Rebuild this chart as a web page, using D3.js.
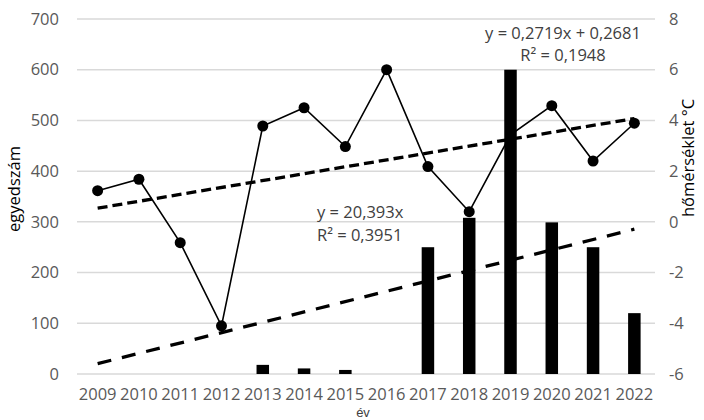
<!DOCTYPE html>
<html>
<head>
<meta charset="utf-8">
<script src="https://cdn.jsdelivr.net/npm/d3@7"></script>
<style>
  html, body { margin: 0; padding: 0; background: #fff; }
  svg text { font-family: "Open Sans", "Liberation Sans", sans-serif; }
</style>
</head>
<body>
<svg id="chart" width="704" height="420"></svg>
<script>
// Yearly counts (bars, left axis) and mean temperature (line, right axis)
const years = ["2009","2010","2011","2012","2013","2014","2015","2016","2017","2018","2019","2020","2021","2022"];
const counts = [0, 0, 0, 0, 18, 11, 8, 0, 250, 308, 600, 299, 250, 120];
const temps = [1.23, 1.68, -0.82, -4.1, 3.78, 4.5, 2.97, 6.0, 2.18, 0.4, 3.43, 4.58, 2.4, 3.89];

// Linear trends (x = 1..n)
const countTrend = [20.393, 0];        // slope, intercept
const tempTrend = [0.2719, 0.2681];    // slope, intercept
const countTrendLabel = ["y = 20,393x", "R² = 0,3951"];
const tempTrendLabel = ["y = 0,2719x + 0,2681", "R² = 0,1948"];

// Axis ticks
const leftTicks = [0, 100, 200, 300, 400, 500, 600, 700];
const rightTicks = [-6, -4, -2, 0, 2, 4, 6, 8];

const svg = d3.select("#chart");
const plot = { left: 77, right: 655, top: 19, bottom: 374 };

const x = d3.scaleBand().domain(years).range([plot.left, plot.right]).padding(0);
const yL = d3.scaleLinear().domain([0, 700]).range([plot.bottom, plot.top]);
const yR = d3.scaleLinear().domain([-6, 8]).range([plot.bottom, plot.top]);
const cx = d => x(d) + x.bandwidth() / 2;
const barW = 12.5;
const fs = "16.5px";

// Gridlines
svg.append("g").selectAll("line").data(leftTicks).join("line")
  .attr("x1", plot.left).attr("x2", plot.right)
  .attr("y1", d => yL(d)).attr("y2", d => yL(d))
  .attr("stroke", "#d9d9d9").attr("stroke-width", 1.5);

// Left axis labels
const leftAxis = d3.axisLeft(yL).tickValues(leftTicks).tickSize(0).tickPadding(0).tickFormat(d => String(d));
svg.append("g").attr("transform", "translate(59,0)").call(leftAxis)
  .call(g => g.select(".domain").remove())
  .selectAll("text").attr("fill", "#595959").style("font-size", fs)
  .style("font-family", "'Open Sans', sans-serif");

// Right axis labels (hyphen-minus as in the source)
const rightAxis = d3.axisRight(yR).tickValues(rightTicks).tickSize(0).tickPadding(0).tickFormat(d => String(d));
svg.append("g").attr("transform", "translate(669,0)").call(rightAxis)
  .call(g => g.select(".domain").remove())
  .selectAll("text").attr("fill", "#595959").style("font-size", fs)
  .style("font-family", "'Open Sans', sans-serif");

// Bottom axis labels
const bottomAxis = d3.axisBottom(x).tickSize(0).tickPadding(0);
svg.append("g").attr("transform", "translate(0,388)").call(bottomAxis)
  .call(g => g.select(".domain").remove())
  .selectAll("text").attr("fill", "#595959").style("font-size", "16.5px")
  .style("font-family", "'Open Sans', sans-serif");

// Temperature line with markers
const rows = years.map((yr, i) => ({ yr, n: counts[i], t: temps[i], i: i + 1 }));
svg.append("path").datum(rows)
  .attr("d", d3.line().x(d => cx(d.yr)).y(d => yR(d.t)))
  .attr("fill", "none").attr("stroke", "#000").attr("stroke-width", 1.6);
svg.append("g").selectAll("circle").data(rows).join("circle")
  .attr("cx", d => cx(d.yr)).attr("cy", d => yR(d.t)).attr("r", 5.5).attr("fill", "#000");

// Count bars
svg.append("g").selectAll("rect").data(rows.filter(d => d.n > 0)).join("rect")
  .attr("x", d => cx(d.yr) - barW / 2).attr("width", barW)
  .attr("y", d => yL(d.n)).attr("height", d => yL(0) - yL(d.n))
  .attr("fill", "#000");

// Trendlines
const ends = [rows[0], rows[rows.length - 1]];
svg.append("path").datum(ends)
  .attr("d", d3.line().x(d => cx(d.yr)).y(d => yR(tempTrend[0] * d.i + tempTrend[1])))
  .attr("fill", "none").attr("stroke", "#000").attr("stroke-width", 3.3)
  .attr("stroke-dasharray", "10,5");
svg.append("path").datum(ends)
  .attr("d", d3.line().x(d => cx(d.yr)).y(d => yL(countTrend[0] * d.i + countTrend[1])))
  .attr("fill", "none").attr("stroke", "#000").attr("stroke-width", 3.3)
  .attr("stroke-dasharray", "14,11");

// Trend equations
const eq = svg.append("g").attr("fill", "#404040").style("font-size", fs);
eq.append("text").attr("x", 317).attr("y", 218).text(countTrendLabel[0]);
eq.append("text").attr("x", 317).attr("y", 241).text(countTrendLabel[1]);
eq.append("text").attr("x", 563).attr("y", 39).attr("text-anchor", "middle").text(tempTrendLabel[0]);
eq.append("text").attr("x", 563).attr("y", 61).attr("text-anchor", "middle").text(tempTrendLabel[1]);

// Axis titles
svg.append("text").attr("transform", "translate(20,189) rotate(-90)")
  .attr("text-anchor", "middle").attr("fill", "#000").style("font-size", fs).text("egyedszám");
svg.append("text").attr("transform", "translate(694,158) rotate(-90)")
  .attr("text-anchor", "middle").attr("fill", "#000").style("font-size", fs).text("hőmérséklet °C");
svg.append("text").attr("x", 363).attr("y", 417)
  .attr("text-anchor", "middle").attr("fill", "#404040")
  .style("font-family", "'Liberation Sans', sans-serif").style("font-size", "13px").text("év");
</script>
</body>
</html>
